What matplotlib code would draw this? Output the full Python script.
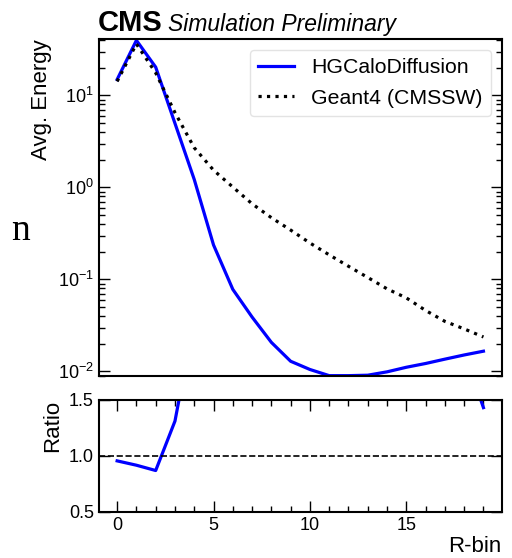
import matplotlib
matplotlib.use("Agg")
import matplotlib.pyplot as plt
import numpy as np
from matplotlib.ticker import MultipleLocator, LogLocator, NullFormatter, FormatStrFormatter, NullLocator

plt.rcParams['font.family'] = ['Liberation Sans', 'DejaVu Sans']

rbins = list(range(20))
hgcalo = [14.9, 39.7, 20.3, 4.97, 1.22, 0.237, 0.078, 0.039, 0.0207, 0.0129,
          0.0105, 0.0090, 0.0090, 0.0091, 0.0099, 0.0111, 0.0122, 0.0136, 0.0151, 0.0166]
geant4 = [14.2, 36.3, 17.6, 6.5, 2.7, 1.54, 1.01, 0.664, 0.469, 0.344,
          0.249, 0.185, 0.139, 0.105, 0.079, 0.063, 0.046, 0.035, 0.029, 0.0237]
ratio = np.array(geant4) / np.array(hgcalo)

fig = plt.figure(figsize=(5.12, 5.58), dpi=100)
ax = fig.add_axes([0.193, 0.326, 0.787, 0.604])
rax = fig.add_axes([0.193, 0.083, 0.787, 0.201], sharex=ax)

ax.plot(rbins, hgcalo, color='blue', lw=2.3, label='HGCaloDiffusion')
ax.plot(rbins, geant4, color='black', lw=2.3, ls=':', label='Geant4 (CMSSW)')
ax.set_yscale('log')
ax.set_ylim(0.0089, 41)
ax.set_ylabel('Avg. Energy', loc='top', fontsize=16)
ax.legend(loc='upper right', fontsize=15.3, frameon=True, edgecolor='#dddddd',
          handlelength=1.7, handletextpad=0.8, borderaxespad=0.5, labelspacing=0.55)
ax.yaxis.set_major_locator(LogLocator(base=10, numticks=10))
ax.yaxis.set_minor_locator(LogLocator(base=10, subs=np.arange(2, 10), numticks=20))
ax.yaxis.set_minor_formatter(NullFormatter())

rax.plot(rbins, ratio, color='blue', lw=2.3)
rax.axhline(1.0, color='black', ls='--', lw=1.2)
rax.set_ylim(0.5, 1.5)
rax.set_yticks([0.5, 1.0, 1.5])
rax.yaxis.set_minor_locator(NullLocator())
rax.yaxis.set_major_formatter(FormatStrFormatter('%.1f'))
rax.set_ylabel('Ratio', loc='top', fontsize=16)
rax.set_xlabel('R-bin', loc='right', fontsize=16, labelpad=1.5)
rax.xaxis.set_major_locator(MultipleLocator(5))
rax.xaxis.set_minor_locator(MultipleLocator(1))

for a in (ax, rax):
    a.tick_params(which='both', direction='in', top=True, right=True, labelsize=13)
    a.tick_params(which='major', length=8, width=1)
    a.tick_params(which='minor', length=4, width=1)
    for s in a.spines.values():
        s.set_linewidth(1.5)
ax.tick_params(axis='x', which='both', bottom=False, top=False, labelbottom=False)

fig.text(98/512, 1-31/558, 'CMS', fontsize=21, fontweight='bold', ha='left', va='baseline')
fig.text(168/512, 1-31/558, 'Simulation Preliminary', fontsize=16.5, style='italic', ha='left', va='baseline')
fig.text(11/512, 1-240/558, 'n', fontsize=27, family='Liberation Serif', ha='left', va='baseline')

fig.savefig('out.png', dpi=100)
